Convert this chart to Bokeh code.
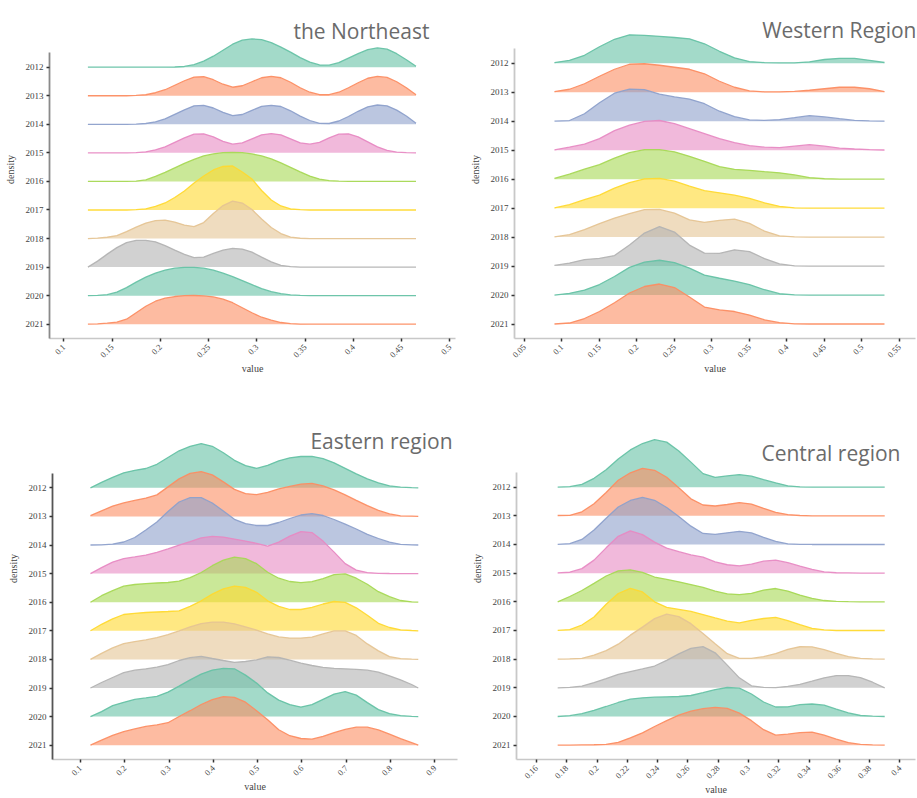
import numpy as np
from bokeh.plotting import figure
from bokeh.models import Range1d, FixedTicker, Label
from bokeh.layouts import column, row
from bokeh.embed import file_html
from bokeh.resources import INLINE

years = ["2012", "2013", "2014", "2015", "2016", "2017", "2018", "2019", "2020", "2021"]
colors = ["#66c2a5", "#fc8d62", "#8da0cb", "#e78ac3", "#a6d854",
          "#ffd92f", "#e5c494", "#b3b3b3", "#66c2a5", "#fc8d62"]

# ---------------- the Northeast ----------------
ne_x = [0.125, 0.135, 0.145, 0.155, 0.165, 0.175, 0.185, 0.195, 0.205, 0.215, 0.225, 0.235,
        0.245, 0.255, 0.265, 0.275, 0.285, 0.295, 0.305, 0.315, 0.325, 0.335, 0.345, 0.355,
        0.365, 0.375, 0.385, 0.395, 0.405, 0.415, 0.425, 0.435, 0.445, 0.455, 0.465]
ne_density = [
    [0, 0, 0, 0, 0, 0, 0, 0, 0, 0.2, 0.7, 2.5, 6, 11, 17, 23, 27, 28.3, 27.5, 24.5, 20, 15, 9.5, 5, 2.2, 2, 4.5, 9, 13.5, 17.5, 19.3, 18, 13.5, 7.5, 1],
    [0, 0, 0, 0, 0, 0.3, 1, 3, 6, 10.5, 15, 18.7, 19, 16, 11.5, 8.5, 10, 14, 18, 19.3, 18, 13.5, 8, 3.5, 1, 1, 3.5, 8, 13, 17.5, 19.3, 18.3, 14, 8, 1],
    [0, 0, 0, 0, 0, 0.2, 0.8, 2.5, 5.5, 10, 14.5, 18.5, 19, 16.3, 12, 8.7, 9.8, 14, 18, 19, 17.8, 13.5, 8.2, 3.8, 1, 0.8, 3.3, 7.8, 13, 17.5, 19.3, 18.5, 14.2, 8.3, 1],
    [0, 0, 0, 0, 0, 0.3, 1, 3, 6, 10.5, 15, 18.7, 19, 16, 11.5, 8.7, 10, 14, 18, 19.3, 18, 14, 10, 8.7, 10.5, 15, 18.7, 19, 16, 11, 6, 2.5, 0.7, 0.2, 0],
    [0, 0, 0, 0, 0, 0.3, 1.5, 5, 9, 13.5, 18, 22, 25.5, 27.5, 28.7, 29, 28.7, 27.5, 25.5, 22.5, 18.5, 14, 9.5, 5.3, 2.3, 0.7, 0.2, 0, 0, 0, 0, 0, 0, 0, 0],
    [0, 0, 0, 0, 0, 0.3, 1.2, 3.5, 7, 12.5, 19, 27, 34, 40, 43.5, 44, 38, 31, 19.5, 10, 4, 1, 0.3, 0, 0, 0, 0, 0, 0, 0, 0, 0, 0, 0, 0],
    [0, 0.5, 1.3, 3, 7, 11.5, 15.5, 18, 18.5, 16.5, 13.5, 12, 16, 25, 33, 37.5, 35.5, 29, 19.5, 11, 5, 1.5, 0.3, 0, 0, 0, 0, 0, 0, 0, 0, 0, 0, 0, 0],
    [0, 6, 13, 19.5, 24.5, 26.7, 26.8, 25.3, 21.5, 17, 12.7, 9.5, 10, 13.7, 17, 18.7, 18, 15, 10, 5.3, 1.8, 0.5, 0, 0, 0, 0, 0, 0, 0, 0, 0, 0, 0, 0, 0],
    [0, 0.3, 1, 3.5, 8, 13.5, 18.5, 22.5, 25.5, 27.5, 28.3, 28.3, 27.5, 25.5, 22.5, 19, 15, 11, 7, 4, 2, 0.7, 0.2, 0, 0, 0, 0, 0, 0, 0, 0, 0, 0, 0, 0],
    [0, 0.3, 1, 2, 5, 11.5, 18, 23, 26, 27.7, 28.5, 28.7, 28.3, 27.3, 25, 21.5, 16.5, 11.5, 7, 4, 1.7, 0.5, 0.1, 0, 0, 0, 0, 0, 0, 0, 0, 0, 0, 0, 0],
]
ne_ticks = [0.1, 0.15, 0.2, 0.25, 0.3, 0.35, 0.4, 0.45, 0.5]
ne_tick_labels = ["0.1", "0.15", "0.2", "0.25", "0.3", "0.35", "0.4", "0.45", "0.5"]

# ---------------- Western Region ----------------
w_x = [0.09, 0.11, 0.13, 0.15, 0.17, 0.19, 0.21, 0.23, 0.25, 0.27, 0.29, 0.31,
       0.33, 0.35, 0.37, 0.39, 0.41, 0.43, 0.45, 0.47, 0.49, 0.51, 0.53]
w_density = [
    [0.7, 3, 8, 16.5, 24, 28.5, 28, 27, 25.8, 24.5, 19.5, 12, 5.5, 1.7, 0.7, 0.5, 0.5, 1.5, 3.8, 5, 5, 3, 0.8],
    [0.7, 3, 8.5, 16, 23, 28, 28.5, 27, 25, 23, 18.5, 11, 5, 1.3, 0.4, 0.4, 0.8, 2, 3.5, 5, 5, 3.5, 0.7],
    [0, 0.7, 7.5, 18.5, 28, 32, 31.5, 27, 24.3, 22.2, 17.5, 10, 4.5, 1.3, 0.8, 1.7, 3.5, 5.6, 4.3, 2.5, 0.8, 0.3, 0.2],
    [0.3, 3, 6, 11.5, 19.5, 25, 28.8, 29.7, 26.5, 21.5, 16.5, 11.5, 7.5, 4.5, 3, 2.5, 4, 5.5, 4, 2, 1.2, 0.6, 0.2],
    [0.7, 5, 10, 14.5, 21, 26.5, 29.5, 29.5, 27.3, 22.8, 17.8, 12.5, 9.8, 8.8, 7.5, 6.3, 4.2, 1.6, 0.4, 0.1, 0, 0, 0],
    [0.2, 3.5, 8.5, 13, 20, 25.5, 29.3, 29.7, 27, 22, 17.5, 15.3, 13, 9.8, 5.3, 1.8, 0.3, 0, 0, 0, 0, 0, 0],
    [0.3, 2.5, 7.5, 13.5, 19, 23.5, 27.5, 27.7, 24, 17.3, 14.8, 16.8, 18, 13.7, 6, 1.3, 0.3, 0, 0, 0, 0, 0, 0],
    [0.7, 3, 6.5, 7.7, 10.5, 21, 33, 39.5, 34, 21, 13, 12.6, 16.3, 14.5, 7.5, 2.2, 0.3, 0, 0, 0, 0, 0, 0],
    [0, 1.7, 5, 10.5, 18.5, 27.7, 33, 34.8, 32.5, 27, 20, 16.8, 14, 10.5, 5.3, 1.3, 0.2, 0, 0, 0, 0, 0, 0],
    [0, 1, 5.5, 12.5, 21.3, 31, 37.5, 40, 36.5, 27, 17, 14.2, 12.5, 9, 4.2, 1.3, 0.2, 0, 0, 0, 0, 0, 0],
]
w_ticks = [0.05, 0.1, 0.15, 0.2, 0.25, 0.3, 0.35, 0.4, 0.45, 0.5, 0.55]
w_tick_labels = ["0.05", "0.1", "0.15", "0.2", "0.25", "0.3", "0.35", "0.4", "0.45", "0.5", "0.55"]

# ---------------- Eastern region ----------------
e_x = [0.1225, 0.1475, 0.1725, 0.1975, 0.2225, 0.2475, 0.2725, 0.2975, 0.3225, 0.3475, 0.3725,
       0.3975, 0.4225, 0.4475, 0.4725, 0.4975, 0.5225, 0.5475, 0.5725, 0.5975, 0.6225, 0.6475,
       0.6725, 0.6975, 0.7225, 0.7475, 0.7725, 0.7975, 0.8225, 0.8475, 0.8625]
e_density = [
    [0, 5.5, 10.5, 15, 17.5, 19.3, 23.5, 30.3, 37, 41.5, 44.2, 41.5, 35, 27.5, 22.2, 19.4, 22.5, 27, 30, 31.3, 31.5, 29.2, 25, 19.5, 14, 9, 5, 2, 0.6, 0.2, 0],
    [0.7, 5.5, 10.3, 13.5, 16, 18.3, 21.5, 29.5, 37.5, 43, 44.8, 41.5, 34.5, 27, 22.8, 21.7, 24, 27.5, 30, 32.3, 33, 30.5, 26.5, 21.5, 16, 10.7, 6, 2.5, 0.5, 0.2, 0],
    [0, 0.2, 0.8, 3, 7.5, 15, 23, 33.5, 43, 47.3, 47.3, 42, 34, 25.7, 21.3, 19.5, 19.5, 22.5, 26.5, 30, 31.3, 29.5, 25.5, 20.8, 16, 10.7, 6.5, 2.8, 0.7, 0.2, 0],
    [0, 6, 11.5, 15, 16.7, 18.5, 21.3, 24.7, 28.5, 32, 35.8, 37.2, 36.5, 34.5, 32.5, 30.2, 27.5, 31.5, 37.5, 42, 41, 32.5, 21.5, 10, 3.5, 1, 0.3, 0.1, 0, 0, 0],
    [0, 6.5, 11.5, 16, 17.7, 18.5, 19.2, 19.7, 21, 24.5, 29.7, 36.5, 42, 45, 43.5, 38.5, 30, 24, 20.7, 19.5, 20.5, 23.5, 27.5, 28.3, 24, 18, 10.5, 5.5, 1.7, 0.4, 0],
    [0, 6.5, 12, 16.3, 17.5, 18.3, 18.8, 19.3, 20, 24.5, 30, 36.7, 42, 44.7, 43.5, 38.5, 30, 24.5, 21.3, 21.3, 23.5, 26.8, 29.3, 28.5, 23, 15.5, 7.5, 3.3, 1, 0.3, 0],
    [0, 6, 11.5, 15.7, 17.8, 19.5, 21.8, 24.7, 28.5, 32.5, 35.8, 37.3, 37.3, 35.6, 32.5, 29.3, 25.5, 22.5, 21.3, 21.3, 22.3, 25.5, 28.5, 28.5, 24, 15.5, 8.5, 2.8, 0.7, 0.2, 0],
    [0, 5.5, 10.5, 15.3, 17.8, 19.2, 20.8, 23.4, 27.5, 30.3, 31.6, 29.5, 27.5, 25.7, 26.5, 28.2, 31.2, 30.5, 27.8, 24.8, 22.5, 20.7, 19.7, 19.2, 18.7, 17.8, 15.8, 12.2, 8.2, 3.5, 0],
    [0, 5, 11, 14.3, 17.2, 18.7, 20.3, 24.5, 30.5, 36.7, 42.5, 46.5, 48.2, 47.8, 41.5, 33.5, 23.7, 16.5, 12, 9.5, 12, 17.3, 22.5, 25, 21.5, 14, 7, 3, 1, 0.2, 0],
    [0, 5, 9.8, 13.5, 16.3, 18.8, 20.3, 22.5, 28.7, 34.5, 40.7, 45.5, 48.5, 47.8, 43, 34.5, 25.5, 15.5, 9.5, 6.7, 6, 8.8, 12.5, 15.8, 18, 18, 15.3, 11, 6.5, 2.5, 0],
]
e_ticks = [0.1, 0.2, 0.3, 0.4, 0.5, 0.6, 0.7, 0.8, 0.9]
e_tick_labels = ["0.1", "0.2", "0.3", "0.4", "0.5", "0.6", "0.7", "0.8", "0.9"]

# ---------------- Central region ----------------
c_x = [0.174, 0.182, 0.190, 0.198, 0.206, 0.214, 0.222, 0.230, 0.238, 0.246, 0.254, 0.262,
       0.270, 0.278, 0.286, 0.294, 0.302, 0.310, 0.318, 0.326, 0.334, 0.342, 0.350, 0.358,
       0.366, 0.374, 0.382, 0.390]
c_density = [
    [0, 0.5, 2.7, 8.8, 17.3, 28.2, 37.2, 43.6, 47.5, 45, 36.2, 25, 13.5, 9.8, 11.2, 12.6, 11, 7.5, 4.3, 1.3, 0.3, 0, 0, 0, 0, 0, 0, 0],
    [0.3, 0.5, 4, 12, 23.3, 35.5, 43, 47.5, 45.5, 38.5, 28, 17, 10.8, 9.8, 11.3, 13.2, 11.7, 7.5, 3.5, 1.2, 0.3, 0, 0, 0, 0, 0, 0, 0],
    [0, 0.8, 5, 14.5, 26.3, 37.5, 44, 47, 44.2, 37, 28, 18.3, 11, 10.2, 11.7, 13.2, 11.5, 7, 3, 0.7, 0.2, 0, 0, 0, 0, 0, 0, 0],
    [0.2, 0.9, 4.5, 13, 25.3, 36.8, 42.3, 38.5, 31, 25, 21.5, 18.2, 16, 11.2, 8.4, 7.3, 9, 12, 13, 10.5, 7, 3.8, 1.2, 0.4, 0.2, 0, 0, 0],
    [0, 5.3, 11.3, 18.4, 25.8, 31, 32, 29.5, 24.8, 22.4, 20, 17.3, 14.4, 10.6, 8, 7.2, 8.5, 11.7, 13.3, 10.7, 6.8, 3.5, 1.3, 0.5, 0.2, 0, 0, 0],
    [0.1, 0.9, 5.5, 13.5, 26.3, 37, 42.2, 38.5, 28.7, 23.2, 21.2, 19, 15.9, 12.5, 9.3, 7.6, 10.2, 12, 13.1, 9.8, 5.8, 2.2, 0.6, 0, 0, 0, 0, 0],
    [0, 0.3, 0.8, 4, 8.5, 15, 24, 32, 40.5, 45, 42.5, 35.5, 25.7, 15.5, 5.5, 0.8, 0.7, 2.5, 5.6, 9.8, 12.4, 12.3, 9.6, 5.7, 2.5, 0.7, 0.2, 0],
    [0, 0.5, 1.8, 5.3, 9.2, 13.5, 16.3, 18.9, 21.8, 27.5, 34, 39.5, 41.2, 35, 22.7, 10, 2, 0.5, 0.3, 1.5, 3.5, 6.7, 10, 12.3, 12.3, 10.3, 5.6, 0],
    [0, 0.8, 2.8, 6.2, 10, 14, 17.3, 18.7, 19.3, 19.7, 20, 21, 23.8, 26.8, 29, 28.3, 22.5, 14.5, 9.5, 9.7, 11.8, 12.5, 11.3, 7.3, 3.6, 1, 0.3, 0],
    [0, 0, 0.2, 0.4, 0.8, 2.8, 7.3, 12.3, 18.7, 24.5, 30, 34, 36.5, 37.7, 36.7, 32, 24.5, 15.5, 10, 11, 12.5, 13.1, 10, 6, 2.6, 0.7, 0.2, 0],
]
c_ticks = [0.16, 0.18, 0.2, 0.22, 0.24, 0.26, 0.28, 0.3, 0.32, 0.34, 0.36, 0.38, 0.4]
c_tick_labels = ["0.16", "0.18", "0.2", "0.22", "0.24", "0.26", "0.28", "0.3", "0.32",
                 "0.34", "0.36", "0.38", "0.4"]

SERIF = "Liberation Serif"


def make_panel(title, xs, dens, ticks, tick_labels, x_start, px_per_unit, row_px,
               width, height, mb_left, mb_right, mb_bottom, title_x, title_y, yaxis_color):
    frame_w = width - mb_left - mb_right
    frame_h = height - mb_bottom
    p = figure(width=width, height=height,
               x_range=Range1d(x_start, x_start + frame_w / px_per_unit),
               y_range=Range1d(-0.5, -0.5 + frame_h / row_px),
               output_backend="svg", toolbar_location=None, title=None,
               min_border_left=mb_left, min_border_right=mb_right,
               min_border_top=0, min_border_bottom=mb_bottom)
    p.outline_line_color = None
    p.xgrid.visible = False
    p.ygrid.visible = False
    p.background_fill_color = "white"
    p.border_fill_color = "white"

    n = len(years)
    for i in range(n):
        base = n - 1 - i
        top = [base + d / row_px for d in dens[i]]
        p.varea(x=xs, y1=[base] * len(xs), y2=top,
                fill_color=colors[i], fill_alpha=0.6)
        p.line(x=xs, y=top, line_color=colors[i], line_width=1.3, line_alpha=0.95)

    xa = p.xaxis[0]
    xa.ticker = FixedTicker(ticks=ticks)
    xa.major_label_overrides = {t: l for t, l in zip(ticks, tick_labels)}
    xa.major_label_orientation = np.pi / 4
    xa.axis_label = "value"
    xa.axis_line_color = "#c8c8c8"
    xa.axis_line_width = 1.5
    xa.major_tick_line_color = "#333333"
    xa.major_tick_line_width = 1.5
    xa.major_tick_in = 0
    xa.major_tick_out = 3
    xa.minor_tick_line_color = None
    xa.major_label_text_font = SERIF
    xa.major_label_text_font_size = "8.5px"
    xa.major_label_text_color = "#444444"
    xa.major_label_standoff = 4
    xa.axis_label_text_font = SERIF
    xa.axis_label_text_font_size = "10px"
    xa.axis_label_text_font_style = "normal"
    xa.axis_label_text_color = "#444444"
    xa.axis_label_standoff = 0

    ya = p.yaxis[0]
    ya.ticker = FixedTicker(ticks=list(range(n)))
    ya.major_label_overrides = {n - 1 - i: years[i] for i in range(n)}
    ya.bounds = (-0.5, n - 0.5)
    ya.axis_label = "density"
    ya.axis_line_color = yaxis_color
    ya.axis_line_width = 1.8
    ya.major_tick_line_color = "#333333"
    ya.major_tick_line_width = 1.5
    ya.major_tick_in = 0
    ya.major_tick_out = 3
    ya.minor_tick_line_color = None
    ya.major_label_text_font = SERIF
    ya.major_label_text_font_size = "9px"
    ya.major_label_text_color = "#444444"
    ya.major_label_standoff = 3
    ya.axis_label_text_font = SERIF
    ya.axis_label_text_font_size = "10px"
    ya.axis_label_text_font_style = "normal"
    ya.axis_label_text_color = "#444444"
    ya.axis_label_standoff = 7

    p.add_layout(Label(x=title_x, y=title_y, text=title, text_font="Open Sans",
                       text_font_size="21px", text_color="#6b6b6b",
                       text_baseline="alphabetic", text_align="left"))
    return p


p1 = make_panel("the Northeast", ne_x, ne_density, ne_ticks, ne_tick_labels,
                0.0852, 965.0, 28.56, 460, 377, 49, 5, 39, 0.338, 10.26, "#8a8a8a")
p2 = make_panel("Western Region", w_x, w_density, w_ticks, w_tick_labels,
                0.0367, 750.0, 28.97, 457, 377, 54, 2, 39, 0.3669, 10.16, "#c8c8c8")
p3 = make_panel("Eastern region", e_x, e_density, e_ticks, e_tick_labels,
                0.0368, 443.0, 28.6, 460, 421, 52, 3, 39, 0.619, 10.63, "#555555")
p4 = make_panel("Central region", c_x, c_density, c_ticks, c_tick_labels,
                0.1468, 1514.0, 28.67, 457, 421, 56, 2, 39, 0.3086, 10.2, "#c8c8c8")

layout = column(row(p1, p2), row(p3, p4))

open("out.html", "w").write(file_html(layout, INLINE))
